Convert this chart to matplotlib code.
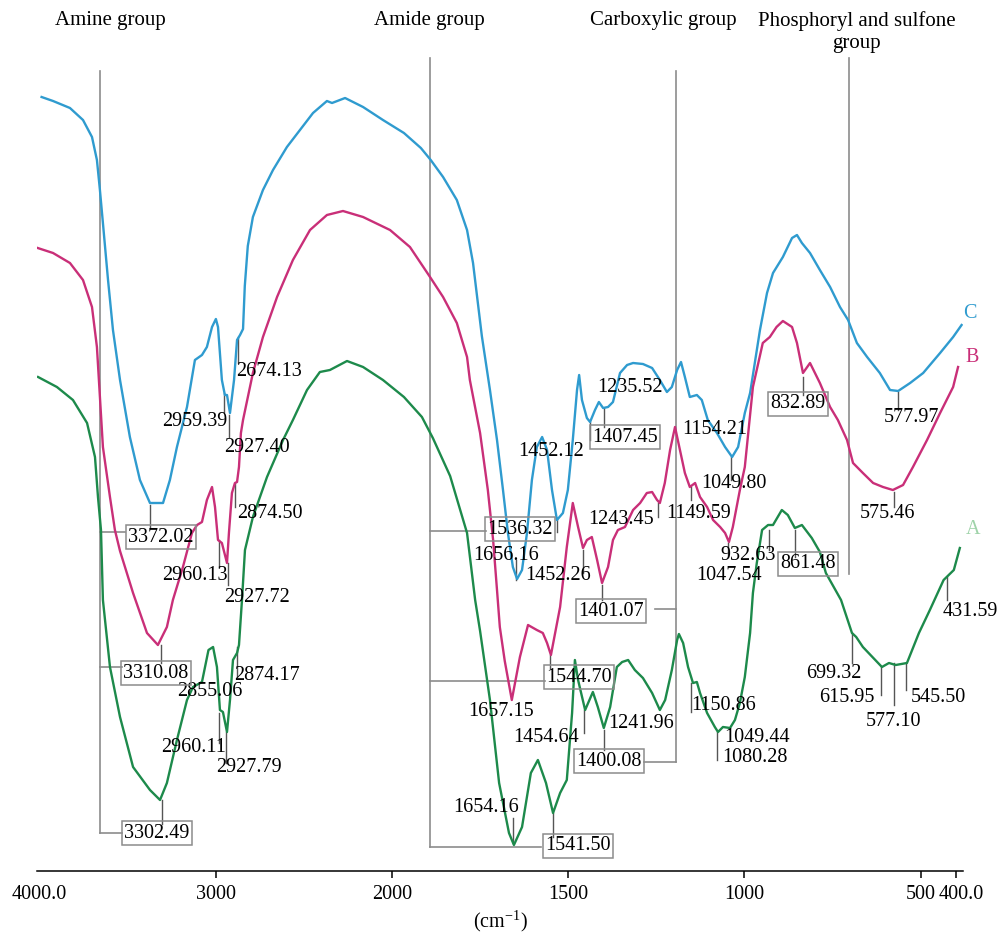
import numpy as np
import matplotlib.pyplot as plt
from matplotlib.transforms import ScaledTranslation

plt.rcParams['font.family'] = ['Liberation Serif', 'DejaVu Serif']
plt.rcParams['mathtext.fontset'] = 'custom'
plt.rcParams['mathtext.rm'] = 'Liberation Serif'

# FTIR spectra, wavenumber (cm-1) vs. transmittance (arbitrary units, offset)
wn_c = [3988, 3923, 3827, 3753, 3702, 3674, 3657, 3640, 3611, 3583, 3543, 3487, 3430, 3373,
        3299, 3260, 3220, 3163, 3118, 3078, 3050, 3021, 2999, 2987, 2965, 2948, 2936, 2919,
        2896, 2879, 2862, 2845, 2835, 2818, 2789, 2732, 2675, 2596, 2522, 2448, 2369, 2340,
        2266, 2164, 2051, 1966, 1918, 1890, 1855, 1816, 1787, 1770, 1745, 1722, 1702, 1685,
        1671, 1657, 1645, 1631, 1617, 1603, 1589, 1574, 1560, 1546, 1532, 1515, 1501, 1487,
        1475, 1469, 1461, 1447, 1438, 1424, 1413, 1401, 1387, 1373, 1353, 1333, 1316, 1288,
        1262, 1240, 1220, 1206, 1191, 1180, 1169, 1155, 1135, 1121, 1104, 1078, 1055, 1035,
        1018, 999, 984, 956, 936, 919, 891, 865, 851, 837, 814, 786, 757, 729, 706, 681, 652,
        616, 587, 564, 530, 493, 445, 408, 384]
t_c = [77.4, 77.0, 76.3, 75.1, 73.4, 71.1, 68.1, 64.8, 59.1, 54.1, 49.1, 43.4, 39.1, 36.8,
       36.8, 39.1, 42.4, 46.4, 51.1, 51.6, 52.4, 54.4, 55.2, 54.4, 49.1, 47.6, 47.6, 45.8,
       49.1, 53.1, 53.6, 54.2, 58.5, 62.5, 65.4, 68.1, 70.1, 72.4, 74.1, 75.8, 77.0, 76.8,
       77.3, 76.4, 75.1, 73.8, 72.3, 71.1, 69.4, 67.1, 64.1, 60.8, 53.5, 48.1, 43.1, 38.1,
       33.8, 30.4, 29.2, 30.1, 33.8, 39.1, 42.4, 43.4, 42.1, 38.1, 35.1, 35.8, 38.1, 43.1,
       48.1, 49.6, 47.1, 45.3, 44.9, 46.1, 46.9, 46.3, 46.4, 46.9, 49.8, 50.6, 50.8, 50.7,
       50.3, 49.1, 47.9, 48.4, 50.1, 50.9, 49.4, 47.4, 47.6, 47.1, 45.1, 43.8, 42.4, 41.4,
       42.4, 45.8, 47.8, 54.1, 57.8, 59.8, 61.4, 63.3, 63.6, 62.8, 61.8, 60.1, 58.4, 56.4, 55.1, 52.8, 51.4,
       49.8, 48.1, 48.0, 48.8, 49.8, 51.8, 53.4, 54.6]

wn_b = [4010, 3923, 3827, 3753, 3702, 3674, 3657, 3640, 3600, 3572, 3543, 3469, 3390, 3328,
        3277, 3243, 3186, 3135, 3106, 3078, 3050, 3021, 3004, 2987, 2965, 2936, 2925, 2908,
        2891, 2879, 2868, 2857, 2845, 2789, 2732, 2652, 2562, 2465, 2369, 2278, 2164, 2011,
        1949, 1892, 1855, 1816, 1787, 1779, 1750, 1728, 1713, 1702, 1694, 1680, 1660, 1637,
        1614, 1589, 1572, 1560, 1549, 1523, 1504, 1487, 1472, 1458, 1447, 1433, 1418, 1404,
        1387, 1373, 1359, 1339, 1316, 1296, 1277, 1262, 1248, 1240, 1226, 1211, 1197, 1183,
        1169, 1155, 1140, 1126, 1106, 1089, 1069, 1055, 1044, 1033, 1013, 999, 976, 948, 928,
        909, 891, 865, 851, 834, 814, 786, 757, 735, 709, 692, 664, 635, 607, 579, 550, 522,
        482, 445, 408, 394]
t_b = [62.3, 61.8, 60.8, 59.1, 56.4, 52.4, 47.4, 42.4, 37.4, 34.1, 32.0, 27.8, 23.8, 22.6,
       24.4, 27.1, 30.4, 33.8, 34.6, 34.9, 37.1, 38.4, 36.4, 33.1, 32.8, 30.8, 33.8, 37.8,
       38.8, 38.9, 40.4, 43.8, 45.1, 49.8, 53.4, 57.4, 61.1, 64.1, 65.6, 66.0, 65.4, 64.1,
       62.4, 59.4, 57.4, 54.8, 51.4, 49.1, 43.8, 38.1, 33.1, 28.1, 24.4, 21.0, 17.1, 21.4,
       24.6, 24.1, 23.8, 22.8, 21.6, 26.4, 32.4, 36.8, 34.4, 32.3, 33.1, 33.4, 31.1, 28.8,
       30.4, 33.1, 34.1, 34.4, 36.1, 36.8, 37.8, 37.9, 37.1, 36.8, 38.8, 42.1, 44.4, 42.1,
       39.8, 38.4, 38.8, 37.4, 36.4, 35.1, 34.4, 33.8, 32.9, 34.4, 38.1, 40.4, 48.4, 52.8, 53.4,
       54.4, 55.0, 54.4, 52.8, 49.8, 50.8, 48.8, 46.4, 45.1, 43.1, 40.8, 39.8, 38.8, 38.4, 38.1, 38.6, 40.4,
       43.1, 45.8, 48.4, 50.4]

wn_a = [4008, 3901, 3810, 3730, 3685, 3668, 3651, 3640, 3600, 3543, 3469, 3373, 3316, 3277,
        3220, 3163, 3129, 3078, 3041, 3015, 2993, 2976, 2959, 2936, 2919, 2902, 2879, 2868,
        2851, 2834, 2789, 2709, 2618, 2562, 2482, 2409, 2352, 2255, 2164, 2051, 1966, 1915,
        1884, 1835, 1787, 1764, 1750, 1722, 1696, 1668, 1654, 1631, 1606, 1586, 1563, 1543,
        1523, 1504, 1489, 1481, 1472, 1452, 1430, 1416, 1399, 1381, 1362, 1347, 1330, 1311,
        1288, 1262, 1240, 1225, 1206, 1191, 1186, 1174, 1160, 1146, 1135, 1126, 1106, 1084,
        1075, 1061, 1041, 1027, 1013, 999, 984, 976, 965, 950, 933, 919, 894, 877, 857, 837,
        809, 786, 769, 726, 695, 683, 664, 610, 590, 571, 539, 505, 474, 435, 406, 389]
t_a = [49.4, 48.4, 47.1, 44.8, 41.4, 37.4, 34.1, 27.1, 20.4, 15.4, 10.4, 8.1, 7.1, 8.8,
       13.1, 17.1, 18.4, 18.9, 22.1, 22.4, 20.4, 16.1, 15.9, 13.9, 17.1, 21.1, 21.8, 22.6,
       27.1, 32.1, 35.4, 39.4, 43.1, 45.1, 48.1, 49.9, 50.1, 51.0, 50.4, 49.1, 47.4, 45.4,
       43.3, 39.5, 33.8, 27.1, 24.0, 17.1, 8.8, 3.8, 2.6, 4.4, 9.8, 11.1, 8.8, 5.8,
       7.8, 9.1, 15.8, 21.1, 19.1, 16.1, 17.9, 16.4, 14.3, 16.4, 20.4, 20.9, 21.1, 20.1,
       19.3, 17.8, 16.1, 17.1, 20.1, 23.1, 23.7, 22.8, 20.4, 18.8, 18.9, 17.8, 15.8, 14.4,
       13.9, 14.4, 14.3, 15.1, 16.8, 19.4, 23.8, 27.8, 30.8, 34.1, 34.6, 34.6, 36.1, 35.6, 34.3, 34.6,
       33.3, 31.9, 29.8, 27.1, 23.8, 23.4, 22.4, 20.4, 20.8, 20.6, 20.8, 23.8, 26.1, 29.1, 30.1, 32.3]

series_names = ['C', 'B', 'A']
line_colors = ['#2f9bcf', '#c92f78', '#1d8a4b']
name_colors = ['#2f9bcf', '#c92f78', '#9fd3a9']

# peak labels (text, wavenumber, y)
plain_labels = [
    ('2959.39', 3118, 45.0), ('2927.40', 2766, 42.4), ('2674.13', 2698, 50.0),
    ('2874.50', 2692, 35.8), ('2960.13', 3118, 29.5), ('2927.72', 2766, 27.3),
    ('2855.06', 3033, 17.9), ('2874.17', 2709, 19.6), ('2960.11', 3123, 12.3),
    ('2927.79', 2811, 10.3), ('1452.12', 1549, 41.9), ('1235.52', 1325, 48.3),
    ('1154.21', 1084, 44.1), ('1049.80', 1030, 38.8), ('1656.16', 1677, 31.5),
    ('1452.26', 1529, 29.5), ('1243.45', 1350, 35.1), ('1149.59', 1129, 35.8),
    ('932.63', 990, 31.6), ('1047.54', 1044, 29.6), ('575.46', 593, 35.8),
    ('577.97', 525, 45.3), ('431.59', 360, 25.9), ('699.32', 746, 19.8),
    ('615.95', 709, 17.3), ('577.10', 576, 14.9), ('545.50', 451, 17.3),
    ('1657.15', 1691, 15.9), ('1454.64', 1563, 13.3), ('1241.96', 1294, 14.8),
    ('1150.86', 1058, 16.5), ('1049.44', 965, 13.3), ('1080.28', 970, 11.3),
    ('1654.16', 1733, 6.4),
]
boxed_labels = [
    ('3372.02', 3311, 33.4), ('3310.08', 3339, 19.8), ('3302.49', 3333, 3.8),
    ('1407.45', 1339, 43.4), ('1536.32', 1637, 34.2), ('1401.07', 1379, 26.0),
    ('861.48', 820, 30.7), ('832.89', 848, 46.7), ('1544.70', 1470, 19.4),
    ('1400.08', 1384, 11.0), ('1541.50', 1472, 2.5),
]
# leader ticks (wavenumber, y_top, y_bottom)
leaders = [
    (3372, 36.6, 34.4), (3310, 22.6, 20.8), (3302, 7.1, 4.7), (2953, 47.8, 45.9),
    (2927, 45.6, 43.4), (2874, 53.4, 50.8), (2891, 38.8, 36.4), (2982, 33.1, 30.4),
    (2930, 30.8, 28.6), (2879, 22.4, 19.4), (2982, 15.8, 12.8), (2942, 13.9, 10.8),
    (1438, 44.9, 43.1), (1399, 46.3, 44.4), (1038, 41.4, 39.1), (1532, 35.3, 33.9),
    (1648, 31.1, 29.1), (1458, 32.1, 29.8), (1245, 36.8, 35.4), (1152, 38.4, 37.1),
    (1404, 28.6, 27.1), (930, 34.1, 32.1), (1047, 32.8, 31.4), (857, 34.1, 31.4),
    (576, 37.9, 36.4), (565, 47.9, 46.1), (834, 49.4, 47.6), (425, 29.4, 27.1),
    (695, 23.8, 20.8), (613, 20.4, 17.6), (575, 20.8, 16.6), (542, 20.8, 18.1),
    (1552, 21.6, 20.3), (1455, 16.1, 13.8), (1399, 14.1, 12.1), (1152, 18.8, 15.9),
    (1078, 13.9, 11.1), (1656, 5.3, 2.8), (1543, 5.8, 3.4),
]
# functional group brackets: (title, title wavenumber, line wavenumber, line top, line bottom)
groups = [
    ('Amine group', 3600, 3657, 80.0, 3.8),
    ('Amide group', 1893, 1893, 81.3, 2.4),
    ('Carboxylic group', 1231, 1194, 80.0, 10.9),
    ('Phosphoryl and sulfone\ngroup', 681, 703, 81.3, 29.7),
]
# horizontal branches (y, from wavenumber, to wavenumber)
branches = [
    (33.9, 3657, 3515), (20.4, 3657, 3532), (3.8, 3657, 3532),
    (34.0, 1893, 1733), (19.0, 1893, 1566), (2.4, 1893, 1577),
    (26.2, 1254, 1194), (10.9, 1285, 1194),
]

xticks = [4000, 3000, 2000, 1500, 1000, 500, 400]
xtick_labels = ['4000.0', '3000', '2000', '1500', '1000', '500', '400.0']


def fwd(w):
    w = np.asarray(w, dtype=float)
    return np.where(w > 2000, 2000 + (w - 2000) / 2, w)


def inv(u):
    u = np.asarray(u, dtype=float)
    return np.where(u > 2000, 2000 + (u - 2000) * 2, u)


fig = plt.figure(figsize=(9.99, 9.35), dpi=100)
ax = fig.add_axes([37 / 999, 64 / 935, 926 / 999, 871 / 935])
ax.set_xscale('function', functions=(fwd, inv))

gray = '#8c8c8c'
fs = 14.5

for wn, t, col in zip([wn_c, wn_b, wn_a], [t_c, t_b, t_a], line_colors):
    ax.plot(wn, t, color=col, lw=1.7, zorder=3, solid_joinstyle='round')

for name, x_title, x_line, top, bottom in groups:
    ax.plot([x_line, x_line], [top, bottom], color=gray, lw=1.2, zorder=2)
    ax.text(x_title, 86.0, name, ha='center', va='top', fontsize=15,
            linespacing=1.2)
for y, x0, x1 in branches:
    ax.plot([x0, x1], [y, y], color=gray, lw=1.2, zorder=2)
for x, y0, y1 in leaders:
    ax.plot([x, x], [y0, y1], color='#555555', lw=1.0, zorder=2)

for s, x, y in plain_labels:
    ax.text(x, y, s, ha='center', va='center', fontsize=fs, zorder=4)
for s, x, y in boxed_labels:
    ax.text(x, y, s, ha='center', va='center', fontsize=fs, zorder=4,
            bbox=dict(boxstyle='square,pad=0.1', fc='none', ec=gray, lw=1.1))

name_pos = [(360, 55.7), (354, 51.4), (351, 34.1)]
for name, (x, y), col in zip(series_names, name_pos, name_colors):
    ax.text(x, y, name, ha='center', va='center', fontsize=fs, color=col)

ax.set_xlim(4014, 380)
ax.set_ylim(0, 87.1)
ax.set_xticks(xticks)
ax.set_xticklabels(xtick_labels, fontsize=fs)
ax.xaxis.get_major_ticks()[0].tick1line.set_visible(False)
ax.tick_params(axis='x', direction='out', length=5, width=1.1, pad=5)
# nudge the end label so "500" and "400.0" do not touch
last = ax.get_xticklabels()[-1]
last.set_transform(last.get_transform() + ScaledTranslation(5 / 100, 0, fig.dpi_scale_trans))
ax.set_yticks([])
for side in ['left', 'right', 'top']:
    ax.spines[side].set_visible(False)
ax.spines['bottom'].set_linewidth(1.1)
ax.set_xlabel(r'(cm$^{-1}$)', fontsize=fs, labelpad=3)

fig.savefig('out.png', dpi=100)
